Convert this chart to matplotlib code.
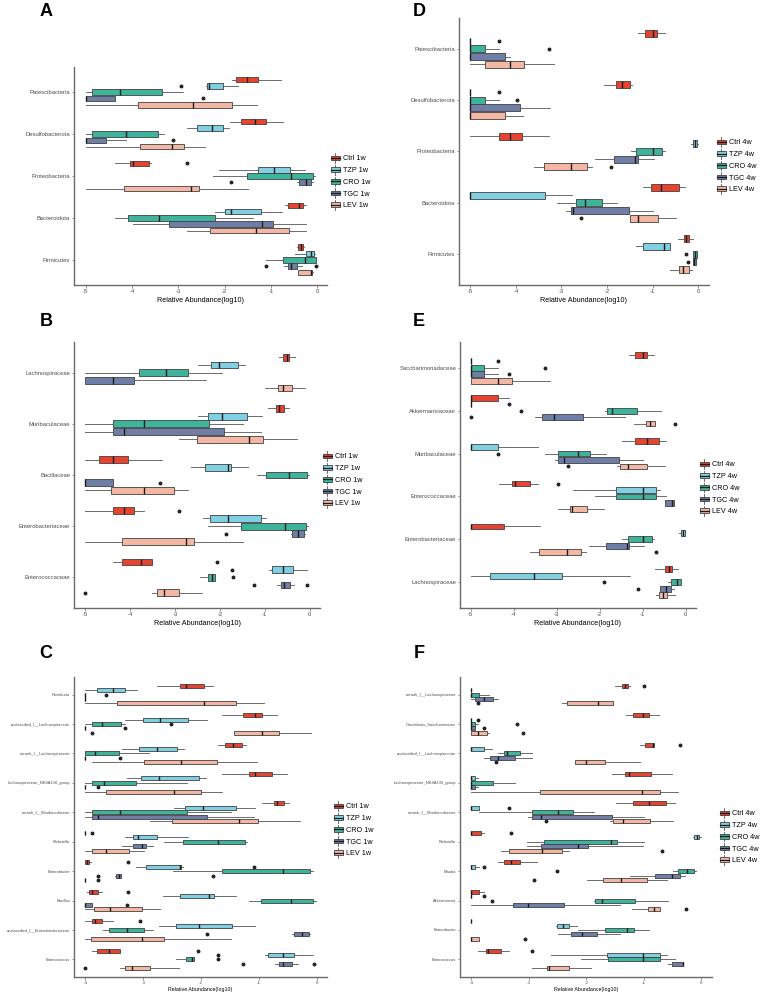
import matplotlib
matplotlib.use("Agg")
import matplotlib.pyplot as plt
from matplotlib.legend_handler import HandlerBase
from matplotlib.patches import Rectangle, Patch
from matplotlib.lines import Line2D

plt.rcParams['font.family'] = ['Liberation Sans', 'DejaVu Sans']
plt.rcParams['axes.unicode_minus'] = False

groups = ["Ctrl", "TZP", "CRO", "TGC", "LEV"]
colors = ["#E8432E", "#80CFE2", "#3DB49B", "#6F7EA6", "#F4B7A3"]

# box stats per category: (whisker low, q1, median, q3, whisker high)
# outliers: (category index, group index, value)
A_cats = ["Patescibacteria", "Desulfobacterota", "Proteobacteria", "Bacteroidota", "Firmicutes"]
A_ctrl = [(-1.83, -1.76, -1.52, -1.28, -0.78), (-1.88, -1.64, -1.35, -1.11, -0.75), (-4.37, -4.05, -3.98, -3.63, -3.58),
          (-0.69, -0.64, -0.40, -0.31, -0.24), (-0.43, -0.41, -0.35, -0.31, -0.29)]
A_tzp = [(-2.41, -2.39, -2.33, -2.04, -1.72), (-2.81, -2.59, -2.27, -2.03, -1.90), (-2.13, -1.27, -0.93, -0.59, -0.26),
         (-2.21, -2.00, -1.87, -1.22, -0.76), (-0.48, -0.25, -0.13, -0.07, -0.06)]
A_cro = [(-5, -4.85, -4.25, -3.36, -2.89), (-5, -4.85, -4.12, -3.44, -3.31), (-2.24, -1.51, -0.56, -0.09, -0.06),
         (-4.37, -4.09, -3.42, -2.21, -1.39), (-1.11, -0.74, -0.27, -0.04, -0.04)]
A_tgc = [(-5, -5, -5, -4.37, -4.37), (-5, -5, -5, -4.56, -4.12), (-0.43, -0.40, -0.25, -0.13, -0.09),
         (-3.97, -3.21, -1.19, -0.96, -0.25), (-0.72, -0.64, -0.56, -0.43, -0.33)]
A_lev = [(-5, -3.87, -2.68, -1.85, -1.30), (-5, -3.83, -3.13, -2.87, -2.43), (-5, -4.18, -2.73, -2.55, -1.49),
         (-2.82, -2.32, -1.32, -0.61, -0.24), (-0.42, -0.42, -0.14, -0.11, -0.09)]
A_out = [(0, 1, -2.93), (0, 3, -2.47), (1, 3, -3.11), (2, 0, -2.81), (2, 3, -1.86), (4, 3, -1.11), (4, 3, -0.04)]

D_cats = A_cats
D_ctrl = [(-1.32, -1.17, -0.99, -0.91, -0.72), (-2.07, -1.81, -1.66, -1.50, -1.45), (-5, -4.37, -4.13, -3.86, -3.28),
          (-1.21, -1.04, -0.81, -0.43, -0.29), (-0.45, -0.32, -0.26, -0.21, -0.11)]
D_tzp = [(-5, -5, -5, -5, -5), (-5, -5, -5, -5, -5), (-0.15, -0.12, -0.07, -0.03, -0.01),
         (-5, -5, -5, -3.37, -2.77), (-1.37, -1.20, -0.75, -0.62, -0.62)]
D_cro = [(-5, -5, -5, -4.68, -4.37), (-5, -5, -5, -4.68, -4.38), (-1.48, -1.37, -0.99, -0.80, -0.73),
         (-3.10, -2.68, -2.49, -2.11, -1.77), (-0.11, -0.11, -0.07, -0.03, -0.03)]
D_tgc = [(-5, -5, -5, -4.25, -4.13), (-5, -5, -5, -3.91, -3.25), (-2.27, -1.85, -1.38, -1.32, -0.97),
         (-2.90, -2.79, -2.75, -1.52, -0.99), (-0.12, -0.12, -0.08, -0.04, -0.04)]
D_lev = [(-5, -4.68, -4.13, -3.83, -3.17), (-5, -5, -5, -4.25, -3.85), (-3.61, -3.39, -2.79, -2.43, -2.32),
         (-1.50, -1.50, -1.31, -0.87, -0.49), (-0.61, -0.43, -0.33, -0.21, -0.13)]
D_out = [(0, 1, -4.38), (0, 2, -3.28), (1, 1, -4.38), (1, 2, -3.98), (2, 4, -1.92), (3, 4, -2.56),
         (4, 2, -0.26), (4, 3, -0.22)]

B_cats = ["Lachnospiraceae", "Muribaculaceae", "Bacillaceae", "Enterobacteriaceae", "Enterococcaceae"]
B_ctrl = [(-0.68, -0.60, -0.51, -0.47, -0.33), (-0.94, -0.74, -0.69, -0.57, -0.47), (-5, -4.69, -4.38, -4.05, -3.28),
          (-5, -4.38, -4.13, -3.91, -3.69), (-4.37, -4.17, -3.76, -3.52, -3.52)]
B_tzp = [(-2.49, -2.19, -2.03, -1.59, -1.45), (-2.49, -2.27, -1.96, -1.39, -1.07), (-2.64, -2.33, -1.81, -1.76, -1.38),
         (-2.37, -2.22, -1.82, -1.09, -0.98), (-0.90, -0.83, -0.59, -0.38, -0.05)]
B_cro = [(-5, -3.80, -3.21, -2.72, -1.95), (-5, -4.38, -3.68, -2.25, -1.48), (-1.17, -0.97, -0.46, -0.06, -0.02),
         (-2.27, -1.53, -0.55, -0.09, -0.04), (-2.44, -2.26, -2.17, -2.12, -2.12)]
B_tgc = [(-5, -5, -4.38, -3.91, -2.30), (-5, -4.38, -4.13, -1.90, -1.09), (-5, -5, -5, -4.38, -4.38),
         (-0.42, -0.40, -0.25, -0.13, -0.10), (-0.72, -0.65, -0.58, -0.43, -0.34)]
B_lev = [(-1.0, -0.71, -0.59, -0.39, -0.10), (-2.92, -2.51, -1.35, -1.03, -0.29), (-5, -4.43, -3.69, -3.02, -2.70),
         (-5, -4.17, -2.76, -2.57, -1.48), (-3.51, -3.40, -3.24, -2.91, -2.39)]
B_out = [(2, 3, -3.33), (3, 0, -2.90), (3, 3, -1.87), (4, 0, -2.06), (4, 1, -1.72), (4, 2, -1.70),
         (4, 3, -1.25), (4, 3, -0.05), (4, 4, -5)]

E_cats = ["Saccharimonadaceae", "Akkermansiaceae", "Muribaculaceae", "Enterococcaceae", "Enterobacteriaceae",
          "Lachnospiraceae"]
E_ctrl = [(-1.32, -1.17, -1.0, -0.90, -0.73), (-5, -5, -5, -4.37, -4.12), (-1.47, -1.17, -0.90, -0.61, -0.46),
          (-4.35, -4.04, -3.96, -3.63, -3.44), (-5, -5, -5, -4.23, -3.39), (-0.71, -0.49, -0.39, -0.31, -0.19)]
E_tzp = [(-5, -5, -5, -5, -5), (-5, -5, -5, -5, -5), (-5, -5, -5, -4.37, -3.43),
         (-2.63, -1.63, -1.0, -0.70, -0.59), (-0.15, -0.12, -0.07, -0.02, -0.01), (-5, -4.56, -3.52, -2.88, -1.29)]
E_cro = [(-5, -5, -5, -4.68, -4.37), (-1.87, -1.84, -1.72, -1.14, -0.58), (-3.28, -2.98, -2.50, -2.23, -1.85),
         (-2.11, -1.61, -1.0, -0.70, -0.46), (-1.47, -1.35, -1.0, -0.78, -0.73), (-0.41, -0.34, -0.21, -0.11, -0.11)]
E_tgc = [(-5, -5, -5, -4.68, -4.37), (-3.51, -3.34, -3.07, -2.40, -1.41), (-3.05, -2.98, -2.82, -1.55, -1.0),
         (-0.49, -0.49, -0.32, -0.28, -0.28), (-2.26, -1.85, -1.37, -1.31, -0.96), (-0.60, -0.59, -0.46, -0.34, -0.27)]
E_lev = [(-5, -5, -4.37, -4.04, -3.16), (-1.20, -0.92, -0.82, -0.71, -0.71), (-1.59, -1.52, -1.35, -0.89, -0.49),
         (-2.98, -2.68, -2.64, -2.30, -1.91), (-3.62, -3.42, -2.77, -2.43, -2.31), (-0.68, -0.61, -0.53, -0.44, -0.26)]
E_out = [(0, 1, -4.37), (0, 2, -3.27), (0, 3, -4.12), (1, 1, -4.12), (1, 2, -3.84), (1, 3, -5), (1, 4, -0.26),
         (2, 2, -4.37), (2, 4, -2.73), (3, 0, -2.97), (4, 4, -0.68), (5, 2, -1.91), (5, 3, -1.12)]

C_cats = ["Roseburia", "unclassified_f__Lachnospiraceae", "norank_f__Lachnospiraceae",
          "Lachnospiraceae_NK4A136_group", "norank_f__Muribaculaceae", "Klebsiella", "Enterobacter", "Bacillus",
          "unclassified_f__Enterobacteriaceae", "Enterococcus"]
C_ctrl = [(-2.77, -2.37, -2.26, -1.95, -1.79), (-1.63, -1.28, -1.06, -0.95, -0.69), (-1.70, -1.59, -1.45, -1.30, -1.23),
          (-1.64, -1.17, -1.07, -0.78, -0.51), (-0.94, -0.74, -0.69, -0.57, -0.47), (-4, -4, -4, -4, -4),
          (-4, -4, -3.97, -3.94, -3.90), (-3.97, -3.94, -3.88, -3.79, -3.71), (-4, -3.88, -3.83, -3.71, -3.53),
          (-3.88, -3.80, -3.59, -3.41, -3.41)]
C_tzp = [(-4, -3.80, -3.53, -3.31, -3.11), (-3.31, -3.0, -2.71, -2.22, -1.90), (-3.37, -3.08, -2.77, -2.42, -2.29),
         (-3.28, -3.04, -2.72, -2.03, -1.92), (-2.47, -2.27, -1.96, -1.39, -1.06), (-3.31, -3.17, -3.09, -2.76, -2.22),
         (-3.12, -2.96, -2.37, -2.34, -2.32), (-2.66, -2.36, -1.86, -1.78, -1.40), (-2.73, -2.43, -2.04, -1.46, -1.06),
         (-0.89, -0.84, -0.58, -0.39, -0.06)]
C_cro = [(-4, -4, -4, -4, -4), (-4, -3.88, -3.72, -3.38, -3.32), (-4, -4, -3.84, -3.42, -2.90),
         (-4, -3.88, -3.68, -3.12, -2.25), (-4, -3.88, -3.41, -2.24, -1.48), (-2.64, -2.31, -1.71, -1.24, -1.20),
         (-2.48, -1.63, -0.58, -0.12, -0.07), (-1.17, -0.97, -0.45, -0.06, -0.02), (-3.69, -3.60, -3.29, -2.98, -2.84),
         (-2.43, -2.26, -2.16, -2.12, -2.12)]
C_tgc = [(-4, -4, -4, -4, -4), (-4, -4, -4, -4, -4), (-4, -4, -4, -4, -4), (-4, -4, -4, -4, -4),
         (-4, -3.88, -3.79, -1.90, -1.09), (-3.37, -3.17, -3.02, -2.96, -2.83), (-3.49, -3.48, -3.42, -3.39, -3.38),
         (-4, -4, -4, -3.88, -3.88), (-0.42, -0.39, -0.26, -0.13, -0.11), (-0.72, -0.66, -0.58, -0.43, -0.33)]
C_lev = [(-4, -3.45, -1.95, -1.39, -0.91), (-1.43, -1.43, -0.95, -0.66, -0.10), (-3.88, -2.99, -2.34, -1.72, -1.03),
         (-4, -3.65, -2.47, -2.01, -1.63), (-2.89, -2.50, -1.34, -1.02, -0.29), (-4, -3.88, -3.64, -3.25, -2.99),
         (-4, -4, -4, -4, -4), (-4, -3.85, -3.58, -3.02, -2.71), (-4, -3.90, -3.02, -2.64, -1.48),
         (-3.41, -3.31, -3.19, -2.89, -2.38)]
C_out = [(0, 2, -3.65), (1, 2, -2.52), (1, 3, -3.31), (1, 4, -3.88), (2, 3, -3.41), (3, 3, -3.79), (5, 0, -3.88),
         (6, 0, -3.26), (6, 1, -1.09), (6, 3, -3.79), (6, 3, -1.79), (6, 4, -3.79), (7, 0, -3.26), (7, 3, -3.29),
         (8, 0, -3.06), (8, 3, -1.89), (9, 0, -2.05), (9, 1, -1.71), (9, 2, -1.70), (9, 3, -1.27), (9, 3, -0.05),
         (9, 4, -4)]

F_cats = ["norank_f__Lachnospiraceae", "Candidatus_Saccharimonas", "unclassified_f__Lachnospiraceae",
          "Lachnospiraceae_NK4A136_group", "norank_f__Muribaculaceae", "Klebsiella", "Blautia", "Akkermansia",
          "Enterobacter", "Enterococcus"]
F_ctrl = [(-1.50, -1.38, -1.32, -1.27, -1.23), (-1.31, -1.19, -1.01, -0.91, -0.73), (-1.07, -0.98, -0.83, -0.82, -0.82),
          (-1.55, -1.33, -1.26, -0.88, -0.51), (-1.49, -1.19, -0.90, -0.61, -0.46), (-4, -4, -4, -3.83, -3.79),
          (-3.53, -3.43, -3.31, -3.15, -2.85), (-4, -4, -4, -3.87, -3.79), (-4, -4, -4, -4, -4),
          (-3.88, -3.74, -3.71, -3.49, -3.34)]
F_tzp = [(-4, -4, -4, -4, -4), (-4, -4, -4, -4, -4), (-4, -4, -4, -3.79, -3.64), (-4, -4, -4, -3.94, -3.88),
         (-4, -4, -4, -3.87, -3.87), (-0.14, -0.13, -0.08, -0.03, -0.01), (-4, -4, -4, -3.94, -3.87),
         (-4, -4, -4, -4, -4), (-2.53, -2.51, -2.40, -2.30, -2.16), (-2.62, -1.64, -1.02, -0.72, -0.60)]
F_cro = [(-4, -4, -4, -3.87, -3.70), (-4, -4, -4, -3.94, -3.88), (-3.53, -3.43, -3.38, -3.15, -2.95),
         (-4, -4, -4, -3.62, -3.25), (-3.87, -2.94, -2.50, -2.23, -1.86), (-3.03, -2.73, -1.57, -1.47, -1.0),
         (-0.49, -0.40, -0.24, -0.13, -0.09), (-1.86, -1.84, -1.72, -1.16, -0.58), (-2.14, -1.68, -1.29, -1.17, -0.91),
         (-2.10, -1.62, -1.01, -0.72, -0.46)]
F_tgc = [(-4, -3.94, -3.79, -3.63, -3.53), (-4, -4, -4, -3.94, -3.94), (-3.78, -3.67, -3.53, -3.24, -2.94),
         (-4, -4, -4, -3.94, -3.88), (-3.01, -2.94, -2.79, -1.55, -0.99), (-3.03, -2.79, -2.15, -1.97, -1.01),
         (-1.24, -0.81, -0.50, -0.37, -0.28), (-4, -3.27, -3.02, -2.39, -1.42), (-2.49, -2.27, -2.08, -1.81, -1.42),
         (-0.58, -0.50, -0.32, -0.31, -0.31)]
F_lev = [(-2.43, -2.34, -1.79, -1.53, -1.53), (-4, -4, -3.88, -3.73, -3.70), (-2.19, -2.19, -2.01, -1.67, -1.06),
         (-4, -2.80, -1.03, -0.71, -0.40), (-1.59, -1.53, -1.36, -0.89, -0.49), (-3.48, -3.34, -2.77, -2.43, -2.30),
         (-1.99, -1.71, -1.40, -0.94, -0.60), (-1.21, -0.93, -0.82, -0.72, -0.72), (-4, -4, -4, -3.87, -3.87),
         (-2.95, -2.68, -2.65, -2.30, -1.91)]
F_out = [(0, 0, -0.99), (0, 4, -3.88), (1, 1, -3.88), (1, 2, -3.21), (1, 3, -3.79), (1, 4, -3.11), (2, 0, -0.36),
         (2, 4, -3.58), (4, 1, -3.34), (4, 4, -2.71), (5, 0, -3.31), (5, 4, -0.68), (6, 1, -3.79), (6, 2, -2.51),
         (6, 4, -2.91), (7, 1, -3.79), (7, 2, -3.64), (7, 4, -0.27), (8, 4, -3.07), (9, 0, -2.94)]


class BoxKey(HandlerBase):
    """ggplot-like boxplot legend key"""
    def create_artists(self, legend, orig_handle, xdescent, ydescent, width, height, fontsize, trans):
        x0, y0 = -xdescent, -ydescent
        cx, cy = x0 + width / 2, y0 + height / 2
        whisk = Line2D([cx, cx], [y0 - height * 0.25, y0 + height * 1.25], color="#555555", lw=0.6)
        box = Rectangle((x0, y0 + height * 0.15), width, height * 0.7,
                        facecolor=orig_handle.get_facecolor(), edgecolor="#404040", lw=0.6)
        med = Line2D([x0, x0 + width], [cy, cy], color="#1a1a1a", lw=0.9)
        for a in (whisk, box, med):
            a.set_transform(trans)
        return [whisk, box, med]


def draw_panel(rect, cats, series, outliers, week, letter, letter_xy, leg_xy, small=False):
    W, H = 764, 992
    l, t, r, b = rect
    ax = fig.add_axes([l / W, 1 - b / H, (r - l) / W, (b - t) / H])
    n = len(cats)
    allv = []
    for g, stats in enumerate(series):
        pos = [i + 1 + (g - 2) * 0.15 for i in range(n)]
        bst = []
        for i, s in enumerate(stats):
            fl = [v for (c, gg, v) in outliers if c == i and gg == g]
            allv.extend(list(s) + fl)
            bst.append(dict(whislo=s[0], q1=s[1], med=s[2], q3=s[3], whishi=s[4], fliers=fl))
        ax.bxp(bst, positions=pos, widths=0.135, orientation="horizontal", patch_artist=True,
               showcaps=False, manage_ticks=False,
               boxprops=dict(facecolor=colors[g], edgecolor="#404040", linewidth=0.6),
               medianprops=dict(color="#1a1a1a", linewidth=1.0),
               whiskerprops=dict(color="#555555", linewidth=0.6),
               flierprops=dict(marker="o", markersize=1.8, markerfacecolor="#222222",
                               markeredgecolor="#222222", linestyle="none"))
    lo, hi = min(allv), max(allv)
    pad = (hi - lo) * 0.05
    ax.set_xlim(lo - pad, hi + pad)
    ax.set_ylim(n + 0.6, 0.4)
    ax.set_yticks(range(1, n + 1))
    ax.set_yticklabels(cats)
    ax.set_xticks(range(int(round(lo)), 1))
    for s in ("top", "right"):
        ax.spines[s].set_visible(False)
    for s in ("left", "bottom"):
        ax.spines[s].set_color("#6a6a6a")
        ax.spines[s].set_linewidth(1.0)
    fs = 2.9 if small else 4.2
    ax.tick_params(axis="y", labelsize=fs, length=1.8, width=0.5, color="#6a6a6a", labelcolor="#4d4d4d", pad=1)
    ax.tick_params(axis="x", labelsize=3.2 if small else 4.2, length=1.8, width=0.5, color="#6a6a6a",
                   labelcolor="#4d4d4d", pad=1)
    ax.set_xlabel("Relative Abundance(log10)", fontsize=3.8 if small else 5.2, labelpad=1.5 if small else 2.5)
    fig.text(letter_xy[0] / W, 1 - letter_xy[1] / H, letter, fontsize=13, fontweight="bold",
             ha="center", va="center")
    handles = [Patch(facecolor=c) for c in colors]
    labels = [f"{g} {week}" for g in groups]
    fig.legend(handles, labels, handler_map={Patch: BoxKey()}, loc="center left",
               bbox_to_anchor=(leg_xy[0] / W, 1 - leg_xy[1] / H), frameon=False, fontsize=5.2,
               handlelength=1.2, handleheight=1.0, labelspacing=0.55, handletextpad=0.5,
               borderpad=0, borderaxespad=0)
    return ax


fig = plt.figure(figsize=(7.64, 9.92), dpi=100)

draw_panel((74, 67, 327, 285), A_cats, [A_ctrl, A_tzp, A_cro, A_tgc, A_lev], A_out, "1w", "A", (46, 12), (331, 182))
draw_panel((459, 18, 709, 285), D_cats, [D_ctrl, D_tzp, D_cro, D_tgc, D_lev], D_out, "4w", "D", (419, 12), (717, 166))
draw_panel((74, 342, 320, 608), B_cats, [B_ctrl, B_tzp, B_cro, B_tgc, B_lev], B_out, "1w", "B", (46, 321), (323, 480))
draw_panel((460, 342, 696, 608), E_cats, [E_ctrl, E_tzp, E_cro, E_tgc, E_lev], E_out, "4w", "E", (419, 321), (700, 488))
draw_panel((74, 677, 327, 977), C_cats, [C_ctrl, C_tzp, C_cro, C_tgc, C_lev], C_out, "1w", "C", (46, 654), (334, 830),
           small=True)
draw_panel((460, 677, 712, 977), F_cats, [F_ctrl, F_tzp, F_cro, F_tgc, F_lev], F_out, "4w", "F", (419, 653), (720, 837),
           small=True)

fig.savefig("out.png", dpi=100)
